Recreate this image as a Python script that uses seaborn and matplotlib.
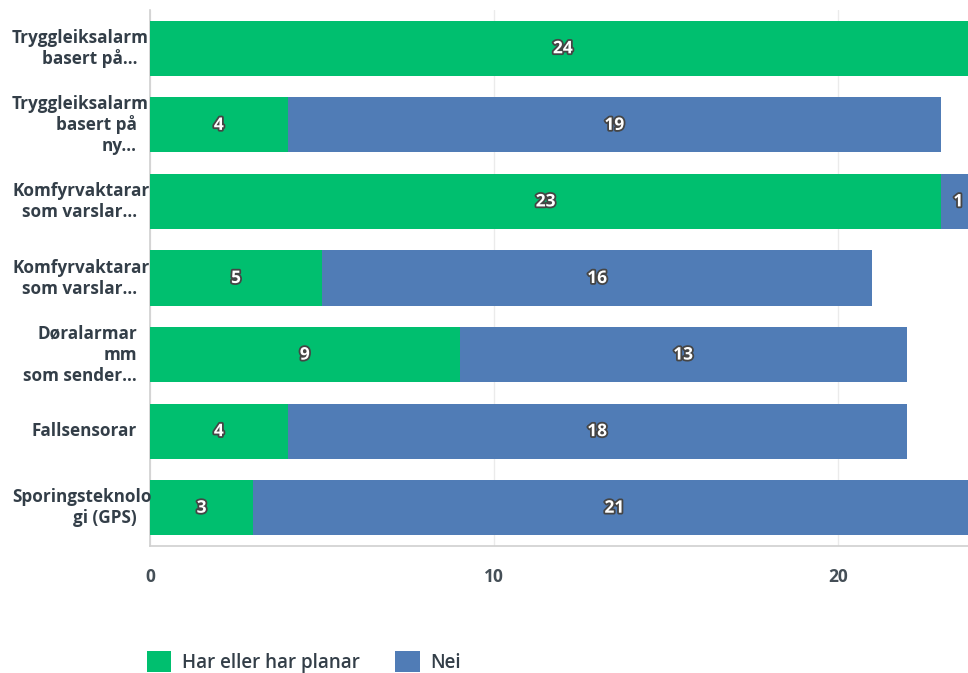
import matplotlib
matplotlib.use("Agg")
import matplotlib.pyplot as plt
import matplotlib.patheffects as pe
from matplotlib.patches import Patch
import seaborn as sns
import pandas as pd

# ---- data ----
categories = [
    "Tryggleiksalarm\nbasert på...",
    "Tryggleiksalarm\nbasert på\nny...",
    "Komfyrvaktarar\nsom varslar...",
    "Komfyrvaktarar\nsom varslar...",
    "Døralarmar\nmm\nsom sender...",
    "Fallsensorar",
    "Sporingsteknolo\ngi (GPS)",
]
har = [24, 4, 23, 5, 9, 4, 3]
nei = [0, 19, 1, 16, 13, 18, 21]
series_names = ["Har eller har planar", "Nei"]
x_ticks = [0, 10, 20]

GREEN = "#00BF6F"
BLUE = "#507CB6"
LABEL_COLOR = "#333E48"
TICK_COLOR = "#454f57"

sns.set_theme(style="white")
plt.rcParams["font.family"] = ["Open Sans", "DejaVu Sans"]

keys = [f"q{i}" for i in range(len(categories))]
df = pd.DataFrame({"key": keys, "har": har, "nei": nei})
df["total"] = df["har"] + df["nei"]

W, H = 968, 673
fig = plt.figure(figsize=(W / 100, H / 100), dpi=100)
ax_left, ax_bottom, ax_right, ax_top = 150, 127, 968, 663
ax = fig.add_axes([ax_left / W, ax_bottom / H, (ax_right - ax_left) / W, (ax_top - ax_bottom) / H])

sns.barplot(data=df, x="total", y="key", order=keys, orient="h", color=BLUE,
            width=0.72, saturation=1, errorbar=None, ax=ax, zorder=2, linewidth=0)
sns.barplot(data=df, x="har", y="key", order=keys, orient="h", color=GREEN,
            width=0.72, saturation=1, errorbar=None, ax=ax, zorder=3, linewidth=0)

ax.set_xlim(0, 23.78)
ax.set_ylim(len(keys) - 0.5, -0.5)
ax.set_xlabel("")
ax.set_ylabel("")

# grid / spines
ax.set_xticks(x_ticks)
ax.set_xticklabels([str(t) for t in x_ticks])
ax.xaxis.grid(True, color="#ebebeb", linewidth=1, zorder=0)
ax.set_axisbelow(True)
for s in ["top", "right"]:
    ax.spines[s].set_visible(False)
for s in ["left", "bottom"]:
    ax.spines[s].set_color("#d0d0d0")
    ax.spines[s].set_linewidth(1.2)
ax.tick_params(axis="x", length=0, pad=16, labelsize=12.5, labelcolor=TICK_COLOR)
for t in ax.get_xticklabels():
    t.set_fontweight("bold")
ax.tick_params(axis="y", length=0)
ax.set_yticks(range(len(keys)))
ax.set_yticklabels([])

# value labels
stroke = [pe.withStroke(linewidth=2.6, foreground="#454545")]
for i, (g, b) in enumerate(zip(har, nei)):
    if g:
        ax.text(g / 2, i, str(g), ha="center", va="center", color="white",
                fontsize=12.5, fontweight="bold", path_effects=stroke, zorder=5)
    if b:
        ax.text(g + b / 2, i, str(b), ha="center", va="center", color="white",
                fontsize=12.5, fontweight="bold", path_effects=stroke, zorder=5)

# category labels (right aligned; long words overflow to the right)
renderer = fig.canvas.get_renderer()
right_px, left_px = 137, 12
line_px = 21
axw = ax_right - ax_left
for i, lab in enumerate(categories):
    lines = lab.split("\n")
    n = len(lines)
    for k, line in enumerate(lines):
        dy = -(k - (n - 1) / 2) * line_px * 0.72
        t = ax.annotate(line, xy=((right_px - ax_left) / axw, i),
                        xycoords=("axes fraction", "data"),
                        xytext=(0, dy), textcoords="offset points",
                        ha="right", va="center", fontsize=12.3, fontweight="bold",
                        color=LABEL_COLOR, annotation_clip=False)
        bb = t.get_window_extent(renderer)
        if bb.x0 < left_px:
            t.xy = ((left_px - ax_left) / axw, i)
            t.set_ha("left")

# legend
handles = [Patch(facecolor=GREEN, edgecolor="none"), Patch(facecolor=BLUE, edgecolor="none")]
fig.legend(handles, series_names, loc="center left", bbox_to_anchor=(147 / W, 11 / H),
           ncol=2, frameon=False, borderpad=0, borderaxespad=0,
           handlelength=1.3, handleheight=1.3,
           handletextpad=0.55, columnspacing=1.9,
           prop={"size": 13.5, "weight": "semibold"}, labelcolor=LABEL_COLOR)

fig.savefig("out.png", dpi=100)
